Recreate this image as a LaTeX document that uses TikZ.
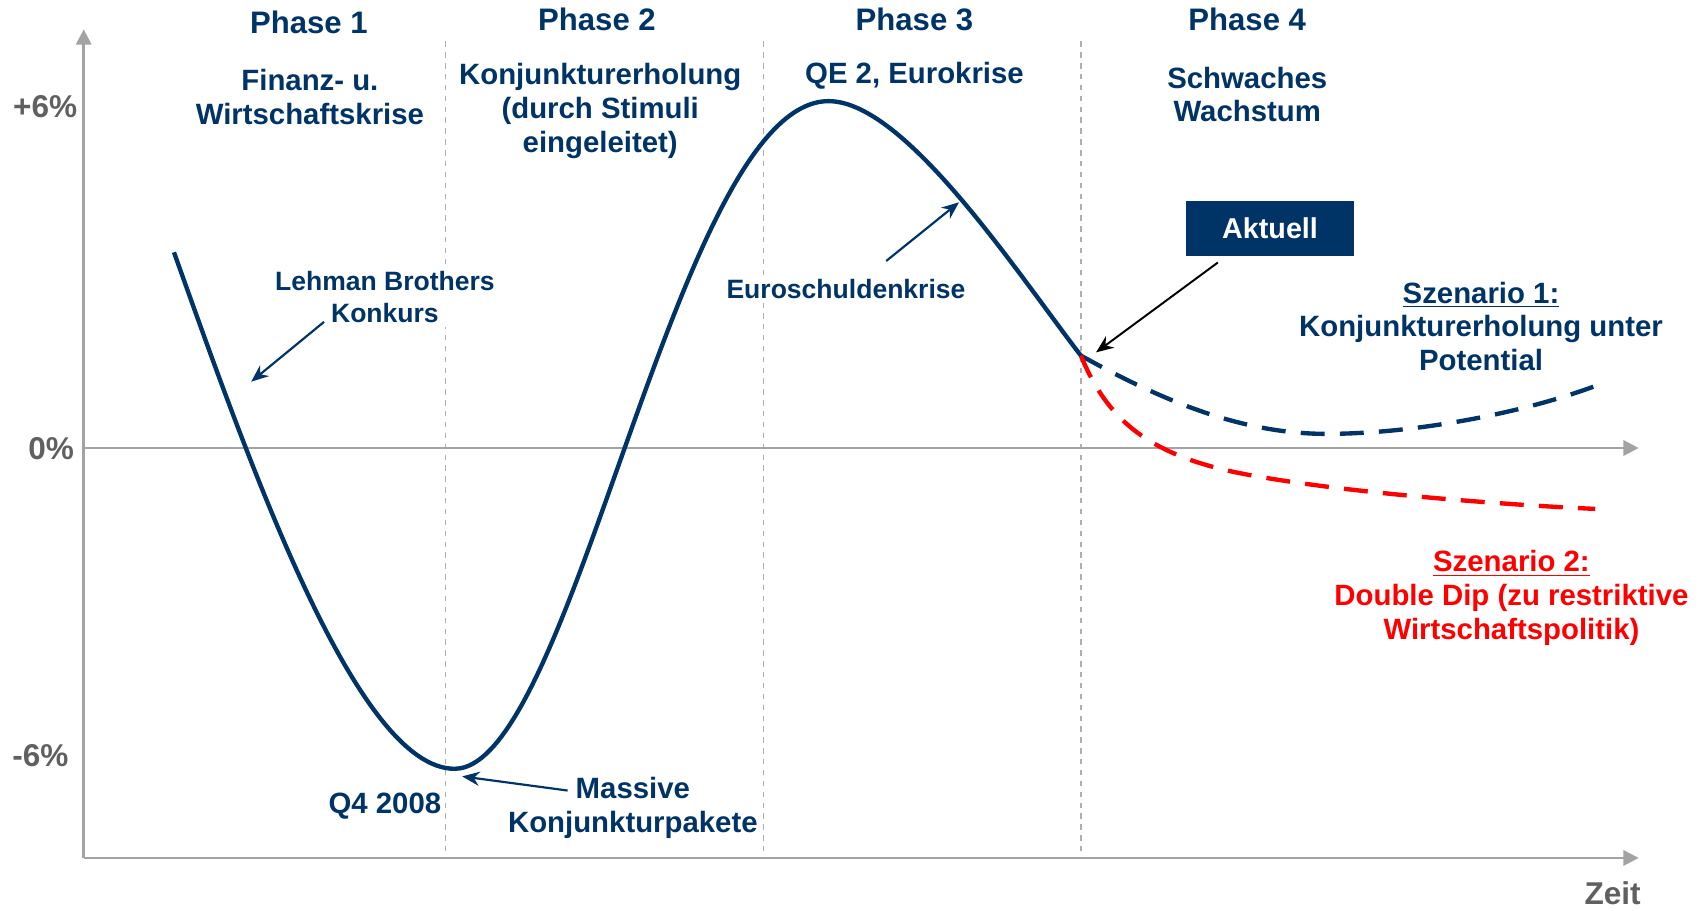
\documentclass[tikz,border=0pt]{standalone}
\usepackage{fontspec}
\setmainfont{Liberation Sans}
\usetikzlibrary{arrows.meta}
\definecolor{navy}{RGB}{0,51,102}
\definecolor{axisgray}{RGB}{163,163,163}
\definecolor{labelgray}{RGB}{96,96,96}
\definecolor{divgray}{RGB}{175,175,175}
\tikzstyle{phase} = [font=\fontsize{14.3}{17}\selectfont\bfseries, text=navy]
\tikzstyle{desc} = [font=\fontsize{13.5}{15.5}\selectfont\bfseries, text=navy, align=center]
\tikzstyle{note} = [font=\fontsize{12.2}{15}\selectfont\bfseries, text=navy, align=center, fill=white, inner sep=2pt]
\tikzstyle{ylabel} = [font=\fontsize{14.5}{17}\selectfont\bfseries, text=labelgray, anchor=east]
\tikzstyle{axis} = [line width=1.2pt, draw=axisgray, -{Triangle[length=7pt,width=7pt]}]
\tikzstyle{divider} = [draw=divgray, line width=0.6pt, dash pattern=on 2.5pt off 2.5pt]
\tikzstyle{curve} = [draw=navy, line width=2pt]
\tikzstyle{scenA} = [draw=navy, line width=2pt, dash pattern=on 11pt off 7pt]
\tikzstyle{scenB} = [draw=red, line width=2pt, dash pattern=on 11pt off 7pt]
\tikzstyle{pointer} = [draw=navy, line width=1pt, -{Stealth[length=8pt,width=6.5pt]}]
\tikzstyle{nowpointer} = [draw=black, line width=0.9pt, -{Stealth[length=8pt,width=6.5pt]}]
\tikzstyle{nowbox} = [rectangle, fill=navy, text=white, minimum width=77pt, minimum height=25pt, font=\fontsize{13.2}{15}\selectfont\bfseries]

\begin{document}
\begin{tikzpicture}[x=0.5pt, y=-0.5pt]
\useasboundingbox (0,0) rectangle (1568,837);
\coordinate (origin) at (77,789);
\coordinate (ytop) at (77,27);
\coordinate (xend) at (1507,789);
\coordinate (zeroleft) at (77,412);
\coordinate (zeroright) at (1507,412);
\foreach \x in {410,702,994}
  \draw[divider] (\x,38) -- (\x,789);
\draw[axis] (origin) -- (ytop);
\draw[axis] (origin) -- (xend);
\draw[axis] (zeroleft) -- (zeroright);
\node[ylabel] (pplus) at (78,98) {+6\%};
\node[ylabel] (pzero) at (75,413) {0\%};
\node[ylabel] (pminus) at (70,695) {-6\%};
\node[ylabel, anchor=center] (zeit) at (1483,821) {Zeit};
\coordinate (now) at (994,327);
\draw[scenA] (now) .. controls (1080,375) and (1150,399) .. (1220,399)
  .. controls (1300,399) and (1400,380) .. (1467,355);
\draw[scenB] (now) .. controls (1018,385) and (1055,420) .. (1150,437)
  .. controls (1250,455) and (1400,465) .. (1467,468);
\draw[curve] (160,232) .. controls (230,428) and (328,707) .. (418,707)
  .. controls (528,707) and (622,93) .. (762,93)
  .. controls (832,93) and (934,249) .. (now);
\node[phase] (ph1) at (284,21) {Phase 1};
\node[phase] (ph2) at (549,18) {Phase 2};
\node[phase] (ph3) at (841,18) {Phase 3};
\node[phase] (ph4) at (1147,18) {Phase 4};
\node[desc] (crisis) at (285,89) {Finanz- u.\\Wirtschaftskrise};
\node[desc] (recovery) at (552,102) {Konjunkturerholung\\(durch Stimuli\\eingeleitet)};
\node[desc] (qe) at (841,70) {QE 2, Eurokrise};
\node[desc] (weak) at (1147,87) {Schwaches\\Wachstum};
\node[note] (lehman) at (354,273) {Lehman Brothers\\Konkurs};
\node[note] (euro) at (778,266) {Euroschuldenkrise};
\node[desc] (q4) at (354,741) {Q4 2008};
\node[desc] (massive) at (582,743) {Massive\\Konjunkturpakete};
\node[nowbox] (aktuell) at (1168,210) {Aktuell};
\node[desc] (scen1) at (1362,300) {\underline{Szenario 1:}\\Konjunkturerholung unter\\Potential};
\node[desc, text=red] (scen2) at (1390,550) {\underline{Szenario 2:}\\Double Dip (zu restriktive\\Wirtschaftspolitik)};
\coordinate (lehmantail) at (298,296);
\coordinate (lehmanhead) at (231,351);
\coordinate (eurotail) at (815,240);
\coordinate (eurohead) at (882,186);
\coordinate (massivetail) at (522,727);
\coordinate (massivehead) at (425,714);
\coordinate (nowhead) at (1008,324);
\draw[pointer] (lehmantail) -- (lehmanhead);
\draw[pointer] (eurotail) -- (eurohead);
\draw[pointer] (massivetail) -- (massivehead);
\draw[nowpointer] ([xshift=-24pt,yshift=-3pt]aktuell.south) -- (nowhead);
\end{tikzpicture}
\end{document}
